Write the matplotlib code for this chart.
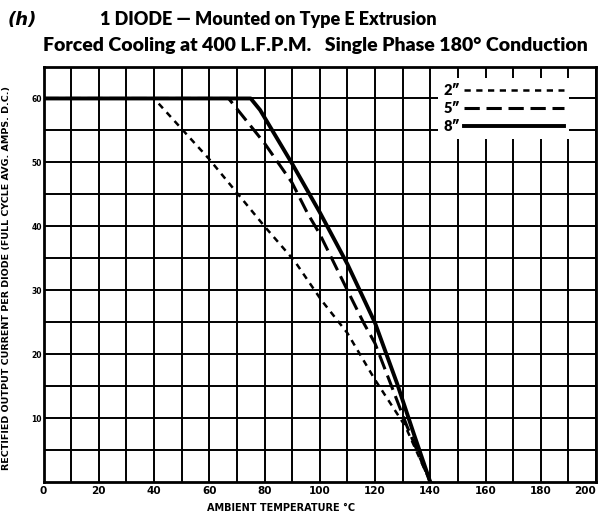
import matplotlib
matplotlib.use("Agg")
import matplotlib.pyplot as plt

# ---- data ----
temp_2in = [0, 40, 60, 80, 91, 100.5, 110, 120, 131, 140]
amps_2in = [60, 60, 50.5, 40, 34.5, 28.5, 23.3, 16, 8.7, 0]

temp_5in = [0, 67, 80, 90, 95.5, 100, 110, 116, 120, 131.6, 140]
amps_5in = [60, 60, 53, 46.8, 42.1, 38.8, 30, 24.8, 21.7, 8.7, 0]

temp_8in = [0, 75, 78.4, 90, 100, 110, 120, 128, 134, 140]
amps_8in = [60, 60, 58.2, 49.8, 42.2, 34.1, 24.9, 15.4, 7.6, 0]

series_labels = ['2\u2033', '5\u2033', '8\u2033']
x_ticks = [0, 20, 40, 60, 80, 100, 120, 140, 160, 180, 200]
y_ticks = [10, 20, 30, 40, 50, 60]

W, H = 600, 515
fig = plt.figure(figsize=(6, 5.15), dpi=100)
x0, x1 = 43.5, 596
y0, y1 = 482, 66.5
ax = fig.add_axes([x0 / W, 1 - y0 / H, (x1 - x0) / W, (y0 - y1) / H])
ax.set_xlim(0, 200)
ax.set_ylim(0, 65)

ax.set_xticks(x_ticks)
ax.set_xticks(range(10, 200, 20), minor=True)
ax.set_yticks(y_ticks)
ax.set_yticks(range(5, 66, 10), minor=True)
ax.grid(True, which='both', color='black', linewidth=1.4, zorder=1)
ax.set_axisbelow(True)

tick_font = 'DejaVu Sans'
ax.set_xticklabels([str(t) for t in x_ticks], fontsize=7.5, fontweight='bold',
                   family=tick_font)
ax.set_yticklabels([str(t) for t in y_ticks], fontsize=5.5, fontweight='bold',
                   family=tick_font)
ax.tick_params(axis='both', which='both', length=0)
ax.tick_params(axis='x', pad=3)
ax.tick_params(axis='y', pad=1)
last = ax.get_xticklabels()[-1]
last.set_horizontalalignment('right')

for sp in ax.spines.values():
    sp.set_linewidth(2.0)
    sp.set_color('black')

l2, = ax.plot(temp_2in, amps_2in, color='black', lw=1.8,
              linestyle=(0, (2.5, 2.2)), zorder=3)
l5, = ax.plot(temp_5in, amps_5in, color='black', lw=2.2,
              linestyle=(0, (5, 2.2)), zorder=3)
l8, = ax.plot(temp_8in, amps_8in, color='black', lw=2.8, zorder=4,
              solid_joinstyle='round')

leg = ax.legend([l2, l5, l8], series_labels, loc='upper right',
                bbox_to_anchor=(0.965, 0.99), markerfirst=False,
                handlelength=6.8, handletextpad=0.3, labelspacing=0.35,
                borderpad=0.4, frameon=True, fancybox=False,
                facecolor='white', edgecolor='none', framealpha=1,
                prop={'family': 'Lato', 'weight': 'heavy', 'size': 10.5})
leg.set_zorder(5)

ax.set_xlabel('AMBIENT TEMPERATURE \u00b0C', fontsize=7, fontweight='bold',
              family=tick_font)
ax.xaxis.set_label_coords(0.43, -0.05)
ax.set_ylabel('RECTIFIED OUTPUT CURRENT PER DIODE (FULL CYCLE AVG. AMPS. D.C.)',
              fontsize=6.8, fontweight='bold', family=tick_font)
ax.yaxis.set_label_coords(-0.058, 0.49)

tfont = {'family': 'Lato', 'weight': 'heavy', 'size': 14}
fig.text(8 / W, 1 - 20 / H, '(h)', fontsize=13, fontweight='bold',
         style='italic', family='DejaVu Sans', va='center', ha='left')
fig.text(268 / W, 1 - 20 / H, '1 DIODE \u2014 Mounted on Type E Extrusion',
         va='center', ha='center', family='Lato', weight='heavy', size=13)
fig.text(315 / W, 1 - 46 / H,
         'Forced Cooling at 400 L.F.P.M.   Single Phase 180\u00b0 Conduction',
         va='center', ha='center', **tfont)

fig.savefig('out.png', dpi=100, facecolor='white')
